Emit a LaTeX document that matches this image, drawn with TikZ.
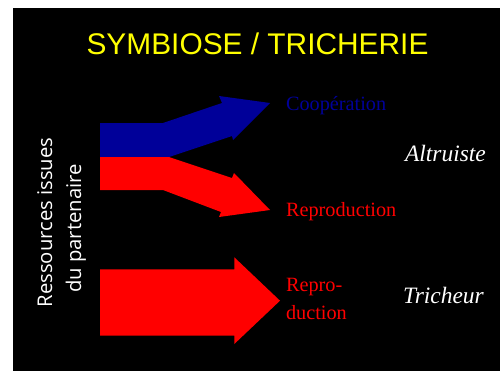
\documentclass[tikz,border=0pt]{standalone}
\usepackage{fontspec}
\setmainfont{Liberation Serif}
\newfontfamily\titlefont{Liberation Sans}
\newfontfamily\sidefont{Open Sans}
\definecolor{slideblue}{RGB}{0,0,153}
\definecolor{slidered}{RGB}{255,0,0}
\definecolor{slideyellow}{RGB}{255,255,0}
\begin{document}
\begin{tikzpicture}[x=0.75pt,y=-0.75pt,
  every node/.style={inner sep=0pt,outer sep=0pt},
  titletext/.style={font=\titlefont\fontsize{22.4pt}{26pt}\selectfont,text=slideyellow,anchor=base},
  outcome/.style={font=\fontsize{15.2pt}{18pt}\selectfont,anchor=base west},
  role/.style={font=\itshape\fontsize{17.6pt}{21pt}\selectfont,text=white,anchor=base west},
  sidetext/.style={font=\sidefont\fontsize{15.2pt}{18pt}\selectfont,text=white,rotate=90,anchor=base}]
  % page and slide background
  \useasboundingbox (0,0) rectangle (500,371);
  \fill[white] (0,0) rectangle (500,371);
  \fill[black] (13,8) rectangle (500,371);

  % title
  \node[titletext] (title) at (257.5,54) {SYMBIOSE / TRICHERIE};

  % resources label on the left, written upwards
  \node[sidetext] (side1) at (52,222.5) {Ressources issues};
  \node[sidetext] (side2) at (81,228.5) {du partenaire};

  % split arrow: upper (blue) branch
  \fill[slideblue] (100,123) -- (163,123) -- (222,103) -- (219,96) -- (270,103)
    -- (233,140) -- (232,136) -- (169,157) -- (100,157) -- cycle;
  % split arrow: lower (red) branch
  \fill[slidered] (100,157) -- (169,157) -- (232,178) -- (234,173) -- (270,210)
    -- (219,217) -- (221,212) -- (163,190) -- (100,190) -- cycle;
  % straight arrow below
  \fill[slidered] (100,269.3) -- (234.3,269.3) -- (234.3,257.3) -- (280,300.7)
    -- (234.3,344) -- (234.3,335.5) -- (100,335.5) -- cycle;

  % outcomes
  \node[outcome,text=slideblue] (coop) at (286,110.7) {Coopération};
  \node[outcome,text=slidered] (repro) at (286,216.5) {Reproduction};
  \node[outcome,text=slidered] (repro2a) at (286,291.5) {Repro-};
  \node[outcome,text=slidered] (repro2b) at (286,319) {duction};

  % roles
  \node[role] (altru) at (405,161.5) {Altruiste};
  \node[role] (trich) at (403,303) {Tricheur};
\end{tikzpicture}
\end{document}
